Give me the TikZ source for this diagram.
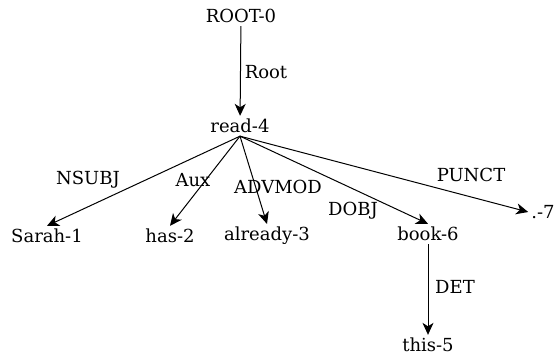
\documentclass[tikz,border=0pt]{standalone}
\usepackage{fontspec}
\setmainfont{DejaVu Serif}
\usepackage{tikz}
\usetikzlibrary{arrows.meta}

\tikzset{
  word/.style={inner sep=3pt,font=\fontsize{18}{22}\selectfont},
  rel/.style={inner sep=0pt,font=\fontsize{18}{22}\selectfont},
  dep/.style={-{Stealth[length=12pt,width=11pt,inset=3.5pt]},line width=1pt},
}

\begin{document}
\begin{tikzpicture}[x=1pt,y=-1pt]
\useasboundingbox (0,0) rectangle (555,356);
%词
\node[word] (r0) at (241,16) {ROOT-0};
\node[word] (r4) at (240,126) {read-4};
\node[word] (w1) at (47,236) {Sarah-1};
\node[word] (w2) at (170,236) {has-2};
\node[word] (w3) at (267,236) {already-3};
\node[word] (w6) at (428,234) {book-6};
\node[word] (w7) at (543,212) {.-7};
\node[word] (w5) at (428,345) {this-5};
%依存弧
\draw[dep] (r0) -- (r4);
\draw[dep] (r4.south) -- (w1.north);
\draw[dep] (r4.south) -- (w2.north);
\draw[dep] (r4.south) -- (w3.north);
\draw[dep] (r4.south) -- (w6.north);
\draw[dep] (r4.south) -- (w7.west);
\draw[dep] (w6) -- (w5);
%Text
\node[rel] (lroot) at (266,72) {Root};
\node[rel] (lnsubj) at (88,180) {NSUBJ};
\node[rel] (laux) at (193,180) {Aux};
\node[rel] (ladv) at (278,187) {ADVMOD};
\node[rel] (ldobj) at (353,211) {DOBJ};
\node[rel] (lpunct) at (471,175) {PUNCT};
\node[rel] (ldet) at (455,287) {DET};
\end{tikzpicture}
\end{document}
